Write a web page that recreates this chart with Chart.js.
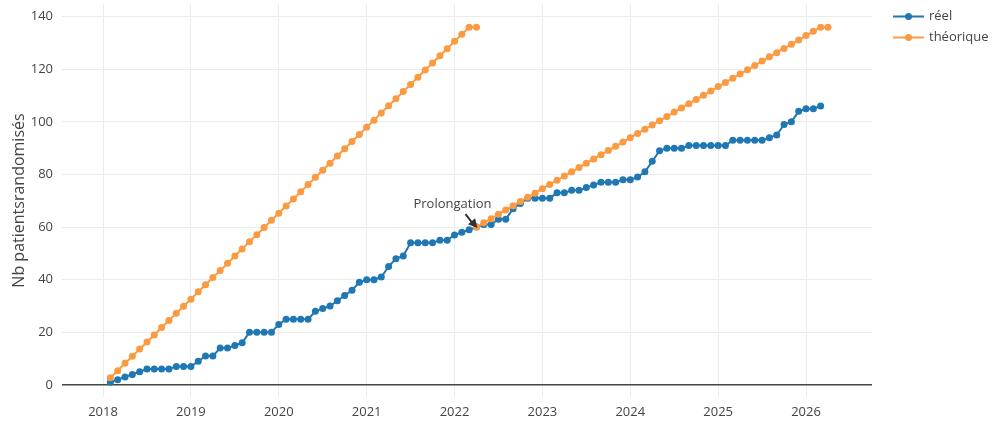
<!DOCTYPE html>
<html>
<head>
<meta charset="utf-8">
<script src="https://cdn.jsdelivr.net/npm/chart.js@4.4.1/dist/chart.umd.min.js"></script>
<style>
  html, body { margin: 0; padding: 0; background: #fff; }
</style>
</head>
<body>
<canvas id="myChart" width="998" height="428"></canvas>
<script>
// Data (one point per month, first day of month)
const reelStart = '2018-02';
const reelValues = [
    1, 2, 3, 4, 5, 6, 6, 6, 6, 7, 7,                 // 2018 (from Feb)
    7, 9, 11, 11, 14, 14, 15, 16, 20, 20, 20, 20,    // 2019
    23, 25, 25, 25, 25, 28, 29, 30, 32, 34, 36, 39,  // 2020
    40, 40, 41, 45, 48, 49, 54, 54, 54, 54, 55, 55,  // 2021
    57, 58, 59, 60, 61, 61, 63, 63, 67, 69, 71, 71,  // 2022
    71, 71, 73, 73, 74, 74, 75, 76, 77, 77, 77, 78,  // 2023
    78, 79, 81, 85, 89, 90, 90, 90, 91, 91, 91, 91,  // 2024
    91, 91, 93, 93, 93, 93, 93, 94, 95, 99, 100, 104, // 2025
    105, 105, 106                                    // 2026 (to Mar)
];

// théorique, first plan (2018-02 -> 2022-04)
const theoStart1 = '2018-02';
const theoValues1 = [
    2.7, 5.4, 8.2, 10.9, 13.6, 16.3, 19.0, 21.8, 24.5, 27.2, 29.9,
    32.6, 35.4, 38.1, 40.8, 43.5, 46.2, 49.0, 51.7, 54.4, 57.1, 59.8, 62.6,
    65.3, 68.0, 70.7, 73.4, 76.2, 78.9, 81.6, 84.3, 87.0, 89.8, 92.5, 95.2,
    97.9, 100.6, 103.4, 106.1, 108.8, 111.5, 114.2, 117.0, 119.7, 122.4, 125.1, 127.8,
    130.6, 133.3, 136.0, 136.0
];

// théorique after prolongation (2022-04 -> 2026-04)
const theoStart2 = '2022-04';
const theoValues2 = [
    60.0, 61.6, 63.2, 64.9, 66.5, 68.1, 69.7, 71.3, 72.9,
    74.6, 76.2, 77.8, 79.4, 81.0, 82.6, 84.3, 85.9, 87.5, 89.1, 90.7, 92.3,
    94.0, 95.6, 97.2, 98.8, 100.4, 102.0, 103.7, 105.3, 106.9, 108.5, 110.1, 111.7,
    113.4, 115.0, 116.6, 118.2, 119.8, 121.4, 123.1, 124.7, 126.3, 127.9, 129.5, 131.1,
    132.8, 134.4, 136.0, 136.0
];

const yearTicks = [2018, 2019, 2020, 2021, 2022, 2023, 2024, 2025, 2026];
const yTicks = [0, 20, 40, 60, 80, 100, 120, 140];

const annotation = { text: 'Prolongation', month: '2022-04', value: 60 };

const BLUE = '#1f77b4';
const ORANGE = '#fb9a40';
const TEXT = '#444';
const FONT = "'Open Sans', 'Liberation Sans', sans-serif";

// '2018-02' -> decimal year
function monthToYear(m) {
    const [y, mo] = m.split('-').map(Number);
    return y + (mo - 1) / 12;
}

function toPoints(start, values) {
    const x0 = monthToYear(start);
    return values.map((v, i) => ({ x: x0 + i / 12, y: v }));
}

const reelPoints = toPoints(reelStart, reelValues);
const theoPoints = toPoints(theoStart1, theoValues1)
    .concat([{ x: monthToYear(theoStart2) + 0.001, y: null }]) // break between both plans
    .concat(toPoints(theoStart2, theoValues2));

// legend drawn on the right, plotly style
const sideLegend = {
    id: 'sideLegend',
    afterDraw(chart) {
        const c = chart.ctx;
        c.save();
        chart.data.datasets.forEach((ds, i) => {
            const y = 16.5 + i * 21;
            c.strokeStyle = ds.borderColor;
            c.lineWidth = 2;
            c.beginPath();
            c.moveTo(893, y);
            c.lineTo(924, y);
            c.stroke();
            c.fillStyle = ds.borderColor;
            c.beginPath();
            c.arc(908.5, y, 3.5, 0, Math.PI * 2);
            c.fill();
            c.fillStyle = TEXT;
            c.font = '13px ' + FONT;
            c.textBaseline = 'middle';
            c.textAlign = 'left';
            c.fillText(ds.label, 929, y);
        });
        c.restore();
    }
};

// arrow annotation
const arrowNote = {
    id: 'arrowNote',
    afterDatasetsDraw(chart) {
        const c = chart.ctx;
        const px = chart.scales.x.getPixelForValue(monthToYear(annotation.month));
        const py = chart.scales.y.getPixelForValue(annotation.value);
        c.save();
        c.fillStyle = TEXT;
        c.font = '13px ' + FONT;
        c.textAlign = 'center';
        c.textBaseline = 'middle';
        c.fillText(annotation.text, px - 24, py - 23);
        // shaft
        c.strokeStyle = '#333';
        c.lineWidth = 2;
        c.beginPath();
        c.moveTo(px - 11, py - 13);
        c.lineTo(px - 4, py - 4);
        c.stroke();
        // head
        c.fillStyle = '#333';
        const ang = Math.atan2(13, 11);
        c.beginPath();
        c.moveTo(px + 1, py + 1);
        c.lineTo(px - 9 * Math.cos(ang - 0.55), py - 9 * Math.sin(ang - 0.55));
        c.lineTo(px - 9 * Math.cos(ang + 0.55), py - 9 * Math.sin(ang + 0.55));
        c.closePath();
        c.fill();
        c.restore();
    }
};

const ctx = document.getElementById('myChart').getContext('2d');
new Chart(ctx, {
    type: 'line',
    data: {
        datasets: [{
            label: 'réel',
            data: reelPoints,
            borderColor: BLUE,
            backgroundColor: BLUE,
            borderWidth: 2,
            pointRadius: 3.5,
            pointBorderWidth: 0,
            pointBackgroundColor: BLUE,
            tension: 0,
            order: 1
        }, {
            label: 'théorique',
            data: theoPoints,
            borderColor: ORANGE,
            backgroundColor: ORANGE,
            borderWidth: 2,
            pointRadius: 3.5,
            pointBorderWidth: 0,
            pointBackgroundColor: ORANGE,
            tension: 0,
            spanGaps: false,
            order: 0
        }]
    },
    options: {
        responsive: false,
        animation: false,
        layout: { padding: { left: 0, right: 126, top: 2, bottom: 0 } },
        plugins: {
            legend: { display: false },
            tooltip: { enabled: false }
        },
        scales: {
            x: {
                type: 'linear',
                min: 2017.533,
                max: 2026.751,
                afterBuildTicks: s => { s.ticks = yearTicks.map(v => ({ value: v })); },
                afterFit: s => { s.height = 31; s.paddingLeft = 0; s.paddingRight = 0; },
                grid: { color: '#ebebeb', drawTicks: false },
                border: { display: false },
                ticks: {
                    color: TEXT,
                    font: { family: FONT, size: 13 },
                    padding: 7,
                    maxRotation: 0,
                    autoSkip: false,
                    callback: v => String(v)
                }
            },
            y: {
                min: -4.6,
                max: 144.8,
                afterBuildTicks: s => { s.ticks = yTicks.map(v => ({ value: v })); },
                afterFit: s => { s.width = 62; s.paddingTop = 0; s.paddingBottom = 0; },
                grid: {
                    color: c => (c.tick && c.tick.value === 0 ? '#444' : '#ebebeb'),
                    lineWidth: c => (c.tick && c.tick.value === 0 ? 1.5 : 1),
                    drawTicks: false
                },
                border: { display: false },
                ticks: {
                    color: TEXT,
                    font: { family: FONT, size: 13 },
                    padding: 9
                },
                title: {
                    display: true,
                    text: 'Nb patientsrandomisés',
                    color: TEXT,
                    font: { family: FONT, size: 16 },
                    padding: { top: 10, bottom: 0 }
                }
            }
        }
    },
    plugins: [sideLegend, arrowNote]
});
</script>
</body>
</html>
